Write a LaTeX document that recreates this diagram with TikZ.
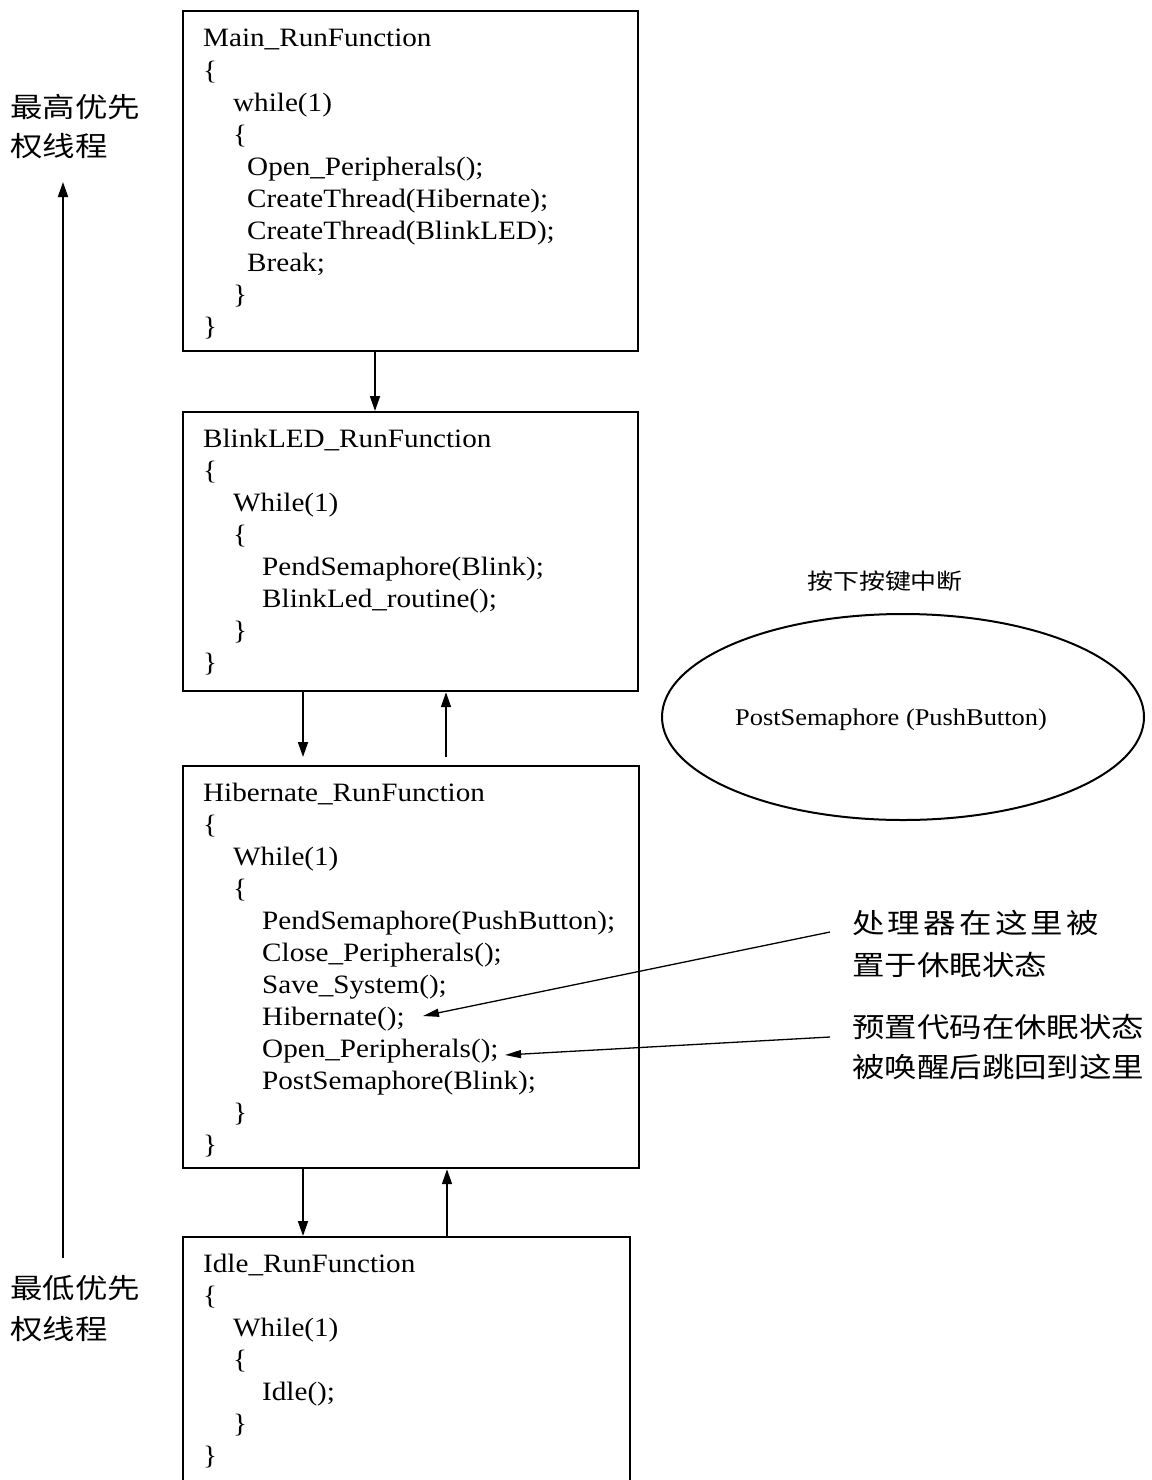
\documentclass[tikz,border=0pt]{standalone}
\usepackage{fontspec}
\setmainfont{Liberation Serif}[FakeStretch=1.1]
\newfontfamily\cjk{Noto Sans CJK SC}[FakeStretch=1.18]
\usetikzlibrary{arrows.meta,calc,shapes.geometric}
\newcommand\cdfont{\fontsize{26.5pt}{32pt}\selectfont}
\newcommand\cjkfont{\cjk\fontsize{27.5pt}{33pt}\selectfont}
\newcommand\cjksmall{\cjk\fontsize{22pt}{26pt}\selectfont}
\newcommand\elfont{\fontsize{24pt}{28pt}\selectfont}
\begin{document}
\begin{tikzpicture}[x=1pt,y=-1pt,
  box/.style={draw, line width=2.2pt, inner sep=0pt, anchor=north west},
  code/.style={anchor=base west, inner sep=0pt, font=\cdfont},
  lbl/.style={anchor=base west, inner sep=0pt, font=\cjkfont},
  arr/.style={-{Triangle[length=15pt,width=10pt]}, line width=1.8pt},
  darr/.style={-{Triangle[length=16pt,width=8pt]}, line width=1.3pt}]
\useasboundingbox (0,0) rectangle (1151,1480);
\fill[white] (0,0) rectangle (1151,1480);

% boxes
\node[box, minimum width=455pt, minimum height=340pt] (main) at (182,10) {};
\node[box, minimum width=455pt, minimum height=279pt] (blink) at (182,411) {};
\node[box, minimum width=456pt, minimum height=402pt] (hib) at (182,765) {};
\node[box, minimum width=447pt, minimum height=270pt] (idle) at (182,1236) {};

% Main box text
\node[code] (m1) at (203,47) {Main\_RunFunction};
\node[code] (m2) at (203,79) {\{};
\node[code] (m3) at (233,111) {while(1)};
\node[code] (m4) at (233,143) {\{};
\node[code] (m5) at (247,175) {Open\_Peripherals();};
\node[code] (m6) at (247,207) {CreateThread(Hibernate);};
\node[code] (m7) at (247,239) {CreateThread(BlinkLED);};
\node[code] (m8) at (247,271) {Break;};
\node[code] (m9) at (233,303) {\}};
\node[code] (m10) at (203,335) {\}};

% BlinkLED box text
\node[code] (b1) at (203,447) {BlinkLED\_RunFunction};
\node[code] (b2) at (203,479) {\{};
\node[code] (b3) at (233,511) {While(1)};
\node[code] (b4) at (233,543) {\{};
\node[code] (b5) at (262,575) {PendSemaphore(Blink);};
\node[code] (b6) at (262,607) {BlinkLed\_routine();};
\node[code] (b7) at (233,639) {\}};
\node[code] (b8) at (203,671) {\}};

% Hibernate box text
\node[code] (h1) at (203,801) {Hibernate\_RunFunction};
\node[code] (h2) at (203,833) {\{};
\node[code] (h3) at (233,865) {While(1)};
\node[code] (h4) at (233,897) {\{};
\node[code] (h5) at (262,929) {PendSemaphore(PushButton);};
\node[code] (h6) at (262,961) {Close\_Peripherals();};
\node[code] (h7) at (262,993) {Save\_System();};
\node[code] (h8) at (262,1025) {Hibernate();};
\node[code] (h9) at (262,1057) {Open\_Peripherals();};
\node[code] (h10) at (262,1089) {PostSemaphore(Blink);};
\node[code] (h11) at (233,1121) {\}};
\node[code] (h12) at (203,1153) {\}};

% Idle box text
\node[code] (i1) at (203,1272) {Idle\_RunFunction};
\node[code] (i2) at (203,1304) {\{};
\node[code] (i3) at (233,1336) {While(1)};
\node[code] (i4) at (233,1368) {\{};
\node[code] (i5) at (262,1400) {Idle();};
\node[code] (i6) at (233,1432) {\}};
\node[code] (i7) at (203,1464) {\}};

% connectors between boxes
\draw[arr] ($(main.south west)+(193,0)$) -- ($(blink.north west)+(193,0)$);
\draw[arr] ($(blink.south west)+(121,0)$) -- ($(hib.north west)+(121,-8)$);
\draw[arr] ($(hib.north west)+(264,-8)$) -- ($(blink.south west)+(264,0)$);
\draw[arr] ($(hib.south west)+(121,0)$) -- ($(idle.north west)+(121,0)$);
\draw[arr] ($(idle.north west)+(265,0)$) -- ($(hib.south west)+(265,0)$);

% priority labels and arrow
\node[lbl] (hi1) at (10,117) {最高优先};
\node[lbl] (hi2) at (10,156) {权线程};
\node[lbl] (lo1) at (10,1298) {最低优先};
\node[lbl] (lo2) at (10,1339) {权线程};
\coordinate (pb) at (63,1258);
\coordinate (pt) at (63,182);
\draw[arr] (pb) -- (pt);

% interrupt ellipse
\node[anchor=base, inner sep=0pt, font=\cjksmall] (irq) at (885,589) {按下按键中断};
\node[draw, ellipse, line width=2pt, minimum width=482pt, minimum height=206pt, inner sep=0pt] (isr) at (903,717) {};
\node[anchor=base, inner sep=0pt, font=\elfont] (post) at (891,725) {PostSemaphore (PushButton)};

% notes
\node[lbl] (n1) at (852,933) {处\hspace{3.3pt}理\hspace{3.3pt}器\hspace{3.3pt}在\hspace{3.3pt}这\hspace{3.3pt}里\hspace{3.3pt}被};
\node[lbl] (n2) at (852,975) {置于休眠状态};
\node[lbl] (n3) at (852,1037) {预置代码在休眠状态};
\node[lbl] (n4) at (852,1077) {被唤醒后跳回到这里};

\coordinate (s1) at (830,932);
\coordinate (e1) at (423,1016);
\coordinate (s2) at (830,1037);
\coordinate (e2) at (505,1055);
\draw[darr] (s1) -- (e1);
\draw[darr] (s2) -- (e2);
\end{tikzpicture}
\end{document}
